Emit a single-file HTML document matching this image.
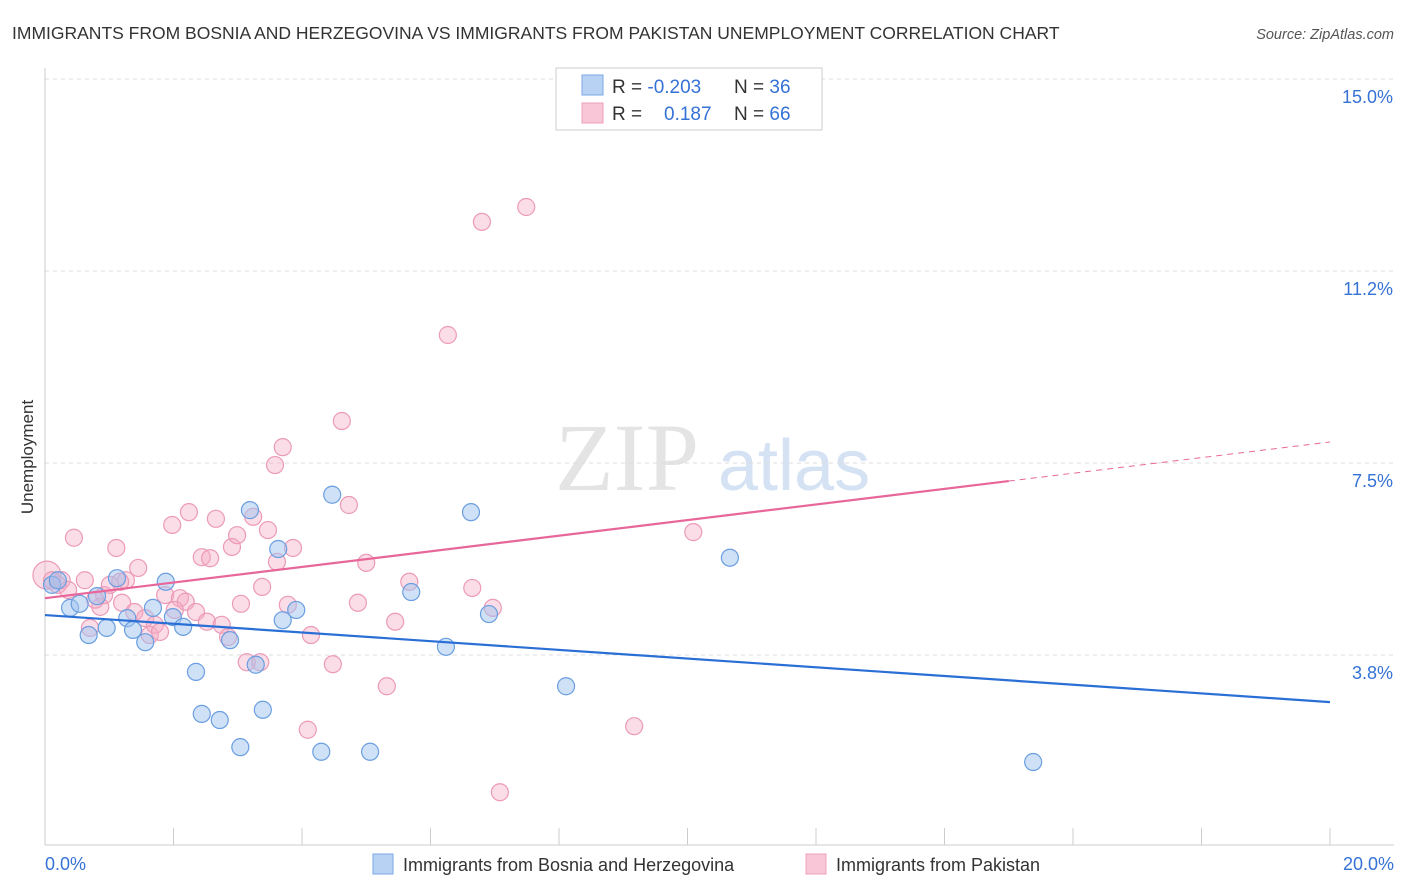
<!DOCTYPE html>
<html><head><meta charset="utf-8"><style>
body{margin:0;background:#fff;font-family:"Liberation Sans",sans-serif;}
svg{display:block}
</style></head><body>
<svg id="c" width="1406" height="892">
<text x="12" y="39" font-size="17.5" fill="#333">IMMIGRANTS FROM BOSNIA AND HERZEGOVINA VS IMMIGRANTS FROM PAKISTAN UNEMPLOYMENT CORRELATION CHART</text>
<text x="1394" y="39" font-size="14.5" fill="#555" font-style="italic" text-anchor="end">Source: ZipAtlas.com</text>
<text x="555" y="490" font-size="96" font-family="Liberation Serif,serif" fill="#e4e4e4">ZIP</text>
<text x="718" y="490" font-size="72" fill="#d4e2f4">atlas</text>
<text transform="translate(33,457) rotate(-90)" font-size="17" fill="#333" text-anchor="middle">Unemployment</text>
<g id="grid"></g><g id="marks"></g>
<g>
<rect x="556" y="68" width="266" height="62" fill="#fff" stroke="#ccc"/>
<rect x="582" y="75" width="21" height="20" fill="#b8d2f4" stroke="#7aa8e4"/>
<rect x="582" y="103" width="21" height="20" fill="#f8c6d6" stroke="#eca0ba"/>
<text x="612" y="93" font-size="19" fill="#333">R = <tspan fill="#3572d6">-0.203</tspan></text>
<text x="734" y="93" font-size="19" fill="#333">N = <tspan fill="#3572d6">36</tspan></text>
<text x="612" y="120" font-size="19" fill="#333">R = <tspan fill="#3572d6" x="664">0.187</tspan></text>
<text x="734" y="120" font-size="19" fill="#333">N = <tspan fill="#3572d6">66</tspan></text>
</g>
<g>
<rect x="373" y="854" width="20" height="20" fill="#b8d2f4" stroke="#7aa8e4"/>
<text x="403" y="871" font-size="18" fill="#333">Immigrants from Bosnia and Herzegovina</text>
<rect x="806" y="854" width="20" height="20" fill="#f8c6d6" stroke="#eca0ba"/>
<text x="836" y="871" font-size="18" fill="#333">Immigrants from Pakistan</text>
</g>
</svg>
<script>
const yTicks=[15.0,11.2,7.5,3.8];
const yTickVals=[15,11.25,7.5,3.75];
const xTickLabels=["0.0%","20.0%"];
const blueX=[0.11,0.20,0.39,0.54,0.68,0.81,0.96,1.12,1.28,1.37,1.56,1.68,1.88,1.99,2.15,2.35,2.44,2.72,2.88,3.04,3.19,3.28,3.39,3.63,3.70,3.91,4.30,4.47,5.06,5.70,6.24,6.63,6.91,8.11,10.66,15.38];
const blueY=[5.12,5.21,4.67,4.75,4.14,4.90,4.28,5.25,4.47,4.24,4.00,4.67,5.18,4.49,4.30,3.42,2.60,2.48,4.04,1.95,6.58,3.56,2.68,5.82,4.43,4.63,1.86,6.88,1.86,4.98,3.91,6.54,4.55,3.14,5.65,1.66];
const pinkX=[0.03,0.11,0.20,0.26,0.45,0.62,0.70,0.86,0.92,1.01,1.11,1.20,1.26,1.39,1.45,1.56,1.63,1.71,1.79,1.87,1.98,2.10,2.19,2.24,2.35,2.44,2.57,2.52,2.66,2.75,2.85,2.91,2.99,3.05,3.14,3.24,3.35,3.38,3.47,3.58,3.61,3.70,3.78,3.86,4.09,4.14,4.48,4.62,4.73,4.87,5.00,5.32,5.45,5.67,6.27,6.65,6.80,6.97,7.08,7.49,9.17,10.09,0.36,0.78,1.17,2.02];
const pinkY=[5.31,5.21,5.12,5.21,6.04,5.21,4.28,4.69,4.92,5.12,5.84,4.77,5.21,4.59,5.45,4.47,4.14,4.34,4.20,4.92,6.29,4.86,4.79,6.54,4.59,5.66,5.64,4.40,6.41,4.34,4.10,5.86,6.09,4.75,3.61,6.45,3.61,5.08,6.19,7.46,5.57,7.81,4.73,5.84,2.29,4.14,3.57,8.32,6.68,4.77,5.55,3.14,4.40,5.18,10.0,5.06,12.21,4.67,1.07,12.50,2.36,6.15,5.02,4.83,5.18,4.63];
const blueTrend=[4.53,2.83];
const pinkTrend=[4.86,7.91];
const pinkSolidEnd=15.0;
const NS="http://www.w3.org/2000/svg";
const X=v=>45+v/20*1285, Y=v=>79+(15-v)*51.2;
function mk(t,a,p){const e=document.createElementNS(NS,t);for(const k in a)e.setAttribute(k,a[k]);p.appendChild(e);return e;}
const g=document.getElementById('grid'), m=document.getElementById('marks');
yTickVals.forEach((v,i)=>{
 const l=mk('line',{x1:45,x2:1394,y1:Y(v),y2:Y(v),stroke:'#ddd','stroke-dasharray':'4,4'},g);
 
 
 const t=mk('text',{x:1393,y:Y(v)+24,'font-size':18,fill:'#3572d6','text-anchor':'end'},g);
 t.textContent=yTicks[i].toFixed(1)+'%';
 
 
});
const ax=mk('line',{x1:45,x2:45,y1:68,y2:845,stroke:'#ccc'},g);


const bx=mk('line',{x1:45,x2:1394,y1:845,y2:845,stroke:'#ccc'},g);


for(let i=0;i<=10;i++){const t=mk('line',{x1:X(i*2),x2:X(i*2),y1:828,y2:845,stroke:'#ccc'},g);
 
 }
[[0,'start',45],[1,'end',1394]].forEach(([i,a,x])=>{const t=mk('text',{x:x,y:870,'font-size':18,fill:'#3572d6','text-anchor':a},g);t.textContent=xTickLabels[i];
 
 });
pinkX.forEach((v,i)=>{const c=mk('circle',{cx:X(v),cy:Y(pinkY[i]),r:i==0?14:8.5,fill:'rgba(244,170,196,0.4)',stroke:'#ec9ab8','stroke-width':1.2},m);
 
 });
blueX.forEach((v,i)=>{const c=mk('circle',{cx:X(v),cy:Y(blueY[i]),r:8.5,fill:'rgba(160,196,240,0.5)',stroke:'#6a9ee0','stroke-width':1.2},m);
 
 });
const bl=mk('line',{x1:X(0),y1:Y(blueTrend[0]),x2:X(20),y2:Y(blueTrend[1]),stroke:'#2a6fd6','stroke-width':2.2},m);


const pm=pinkTrend[0]+(pinkTrend[1]-pinkTrend[0])*pinkSolidEnd/20;
const pl=mk('line',{x1:X(0),y1:Y(pinkTrend[0]),x2:X(pinkSolidEnd),y2:Y(pm),stroke:'#e8679a','stroke-width':2.2},m);


const pd=mk('line',{x1:X(pinkSolidEnd),y1:Y(pm),x2:X(20),y2:Y(pinkTrend[1]),stroke:'#e8679a','stroke-width':1,'stroke-dasharray':'6,5'},m);


</script>
</body></html>
